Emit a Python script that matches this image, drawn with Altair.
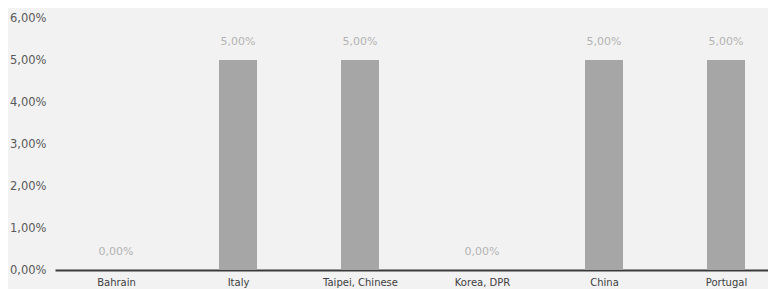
import altair as alt
import pandas as pd

countries = ["Bahrain", "Italy", "Taipei, Chinese", "Korea, DPR", "China", "Portugal"]
values = [0.0, 0.05, 0.05, 0.0, 0.05, 0.05]
y_ticks = [0.0, 0.01, 0.02, 0.03, 0.04, 0.05, 0.06]

df = pd.DataFrame({"idx": list(range(len(countries))), "country": countries, "value": values})

FONT = "DejaVu Sans"
STEP = 122          # pixel distance between category centres
PLOT_W = 713        # visible plot width (page body is 760px wide)

names_js = "[" + ",".join("'" + c + "'" for c in countries) + "]"

x = alt.X(
    "idx:Q",
    title=None,
    scale=alt.Scale(domain=[-0.5, -0.5 + PLOT_W / STEP], nice=False, zero=False, padding=0),
    axis=alt.Axis(
        values=list(range(len(countries))),
        labelExpr=names_js + "[datum.value]",
        labelFont=FONT,
        labelFontSize=10,
        labelColor="#404040",
        labelPadding=7,
        labelFlush=False,
        labelOverlap=False,
        ticks=False,
        domainColor="#3a3a3a",
        domainWidth=2,
        grid=False,
    ),
)

y = alt.Y(
    "value:Q",
    title=None,
    scale=alt.Scale(domain=[0, 0.06], nice=False, zero=True, padding=0),
    axis=alt.Axis(
        values=y_ticks,
        labelExpr="replace(format(datum.value, '.2%'), '.', ',')",
        labelFont=FONT,
        labelFontSize=11.5,
        labelColor="#595959",
        labelPadding=9,
        ticks=False,
        domain=False,
        grid=False,
    ),
)

base = alt.Chart(df).encode(x=x, y=y)

bars = base.mark_bar(color="#a6a6a6", width=38)

labels = base.transform_calculate(
    lbl="replace(format(datum.value, '.2%'), '.', ',')"
).mark_text(
    font=FONT, fontSize=11, color="#b3b3b3", baseline="alphabetic", dy=-15
).encode(text="lbl:N")

chart = (
    alt.layer(bars, labels)
    .properties(
        width=PLOT_W,
        height=252,
        background="#f2f2f2",
        padding={"left": 47, "top": 10, "right": 0, "bottom": 19},
        autosize=alt.AutoSizeParams(type="none"),
    )
    .configure_view(strokeWidth=0)
)

chart.save("out.html", embed_options={"renderer": "svg", "actions": False})
